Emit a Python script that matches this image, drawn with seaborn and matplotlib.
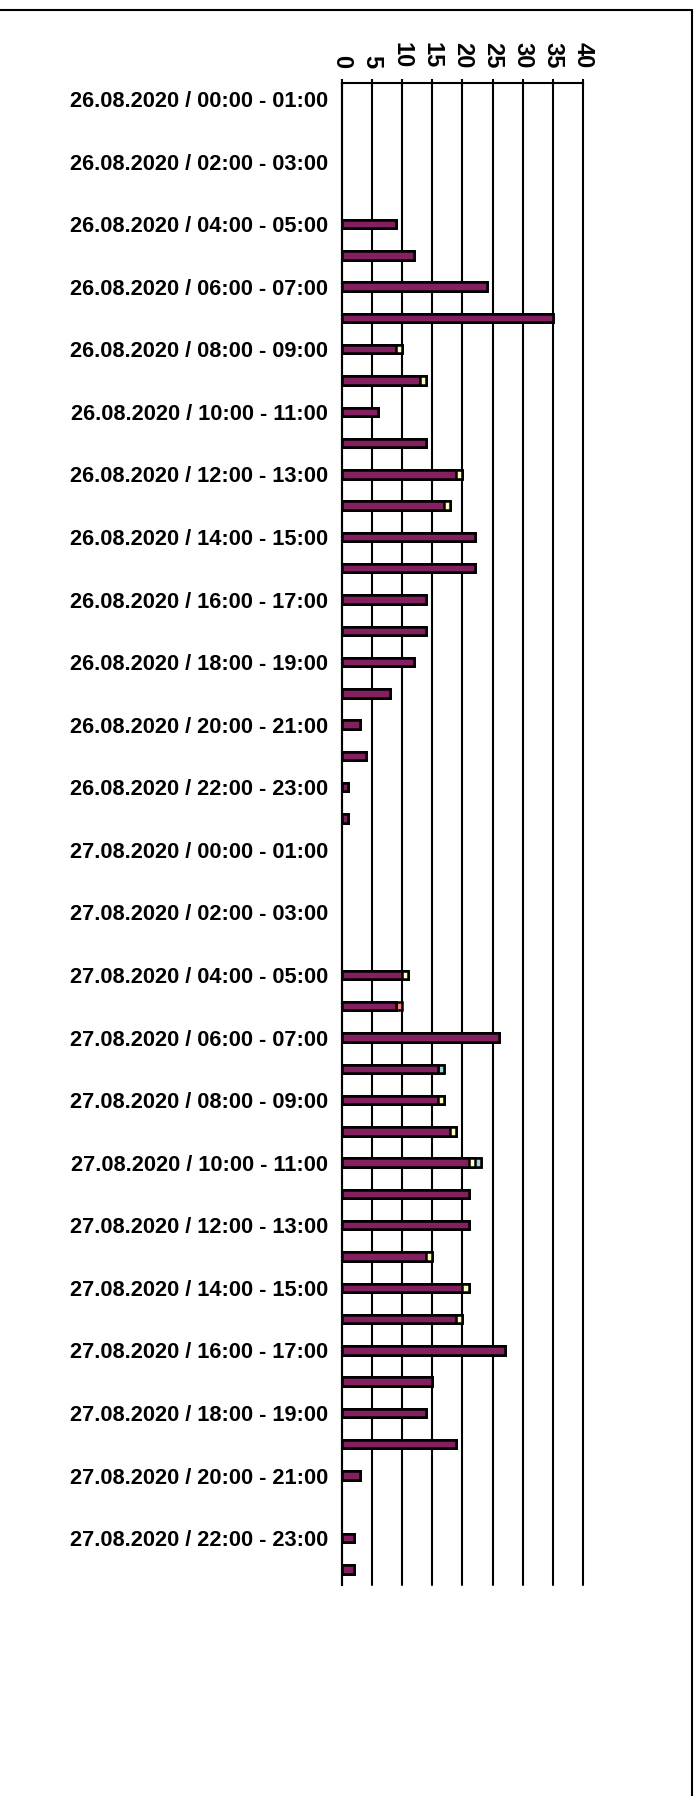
import numpy as np
import pandas as pd
import matplotlib
matplotlib.use("Agg")
import matplotlib.pyplot as plt
import seaborn as sns
from matplotlib.lines import Line2D

days = ["26.08.2020", "27.08.2020"]
hours = [f"{h:02d}:00 - {h + 1:02d}:00" for h in range(24)]
categories = [f"{d} / {h}" for d in days for h in hours]

purple = [0, 0, 0, 0, 9, 12, 24, 35, 9, 13, 6, 14, 19, 17, 22, 22, 14, 14, 12, 8, 3, 4, 1, 1,
          0, 0, 0, 0, 10, 9, 26, 16, 16, 18, 21, 21, 21, 14, 20, 19, 27, 15, 14, 19, 3, 0, 2, 2]
yellow = [0, 0, 0, 0, 0, 0, 0, 0, 1, 1, 0, 0, 1, 1, 0, 0, 0, 0, 0, 0, 0, 0, 0, 0,
          0, 0, 0, 0, 1, 0, 0, 0, 1, 1, 1, 0, 0, 1, 1, 1, 0, 0, 0, 0, 0, 0, 0, 0]
cyan = [0, 0, 0, 0, 0, 0, 0, 0, 0, 0, 0, 0, 0, 0, 0, 0, 0, 0, 0, 0, 0, 0, 0, 0,
        0, 0, 0, 0, 0, 0, 0, 1, 0, 0, 1, 0, 0, 0, 0, 0, 0, 0, 0, 0, 0, 0, 0, 0]
salmon = [0, 0, 0, 0, 0, 0, 0, 0, 0, 0, 0, 0, 0, 0, 0, 0, 0, 0, 0, 0, 0, 0, 0, 0,
          0, 0, 0, 0, 0, 1, 0, 0, 0, 0, 0, 0, 0, 0, 0, 0, 0, 0, 0, 0, 0, 0, 0, 0]
xticks = [0, 5, 10, 15, 20, 25, 30, 35, 40]

PURPLE = "#84205F"
YELLOW = "#FFFFC4"
CYAN = "#9ED8DE"
SALMON = "#FF8080"

sns.set_style("white")
plt.rcParams["font.family"] = ["Liberation Sans", "DejaVu Sans"]
plt.rcParams["font.weight"] = "bold"

df = pd.DataFrame({"cat": categories, "p": purple, "y": yellow, "c": cyan, "s": salmon})
cum = df[["p", "y", "c", "s"]].cumsum(axis=1)
cum = cum.where(cum > 0)

fig = plt.figure(figsize=(6.98, 17.96), dpi=100)
ax = fig.add_axes([0.48954, 0.11748, 0.34613, 0.83614])

for col, color in [("s", SALMON), ("c", CYAN), ("y", YELLOW), ("p", PURPLE)]:
    d = pd.DataFrame({"cat": df["cat"], "val": cum[col]})
    sns.barplot(data=d, x="val", y="cat", orient="h", order=categories, color=color,
                saturation=1, edgecolor="black", linewidth=1.8, width=0.27,
                errorbar=None, ax=ax, zorder=3)

ax.set_xlim(0, 40)
ax.set_ylim(len(categories) - 0.5, -0.5)
ax.set_xlabel("")
ax.set_ylabel("")

ax.xaxis.tick_top()
ax.set_xticks(xticks)
ax.set_xticklabels([str(v) for v in xticks], rotation=-90, fontsize=17, fontweight="bold")
ax.tick_params(axis="x", direction="inout", length=6, width=1.5, pad=8, colors="black")

ax.set_yticks(range(0, len(categories), 2))
ax.set_yticklabels([categories[i] for i in range(0, len(categories), 2)], fontsize=15.7,
                   fontweight="bold")
ax.set_yticks(np.arange(-0.5, len(categories), 1), minor=True)
ax.tick_params(axis="y", which="major", length=0, pad=10, colors="black")
ax.tick_params(axis="y", which="minor", direction="out", length=5, width=1.5, color="black")

ax.grid(axis="x", color="black", linewidth=1.5)
ax.grid(axis="y", visible=False)
ax.set_axisbelow(True)
for gl in ax.get_xgridlines():
    gl.set_clip_on(False)

for side in ["left", "top"]:
    ax.spines[side].set_visible(True)
    ax.spines[side].set_color("black")
    ax.spines[side].set_linewidth(1.5)
for side in ["right", "bottom"]:
    ax.spines[side].set_visible(False)

fx = 692 / 698
fy = 1 - 10 / 1796
fig.add_artist(Line2D([0, fx], [fy, fy], transform=fig.transFigure, color="black", lw=1.5))
fig.add_artist(Line2D([fx, fx], [0, fy], transform=fig.transFigure, color="black", lw=1.5))

fig.savefig("out.png", dpi=100)
